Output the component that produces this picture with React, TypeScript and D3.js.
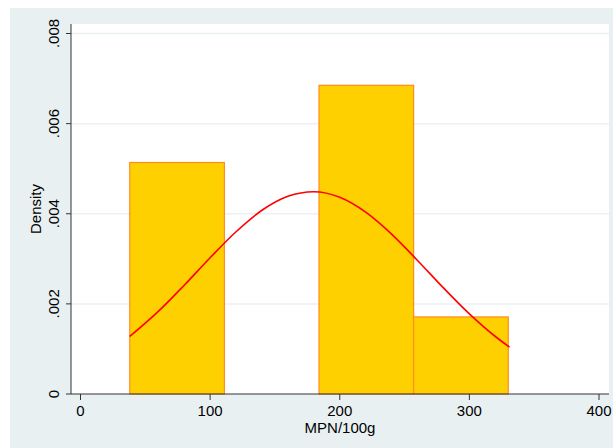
import { useEffect, useRef } from "react";
import * as d3 from "d3";

// histogram bins (MPN/100g) and their densities
const binEdges = [38, 111, 184, 257, 330];
const binDensity = [0.005137, 0, 0.00685, 0.00171];

// normal density overlay
const curveX = [38, 60, 80, 100, 120, 140, 160, 180, 200, 220, 240, 260, 280, 300, 320, 331];
const curveY = [
  0.001276, 0.001832, 0.002414, 0.003024, 0.003601, 0.004077, 0.004387, 0.004488,
  0.004365, 0.004035, 0.003547, 0.002963, 0.002354, 0.001777, 0.001276, 0.00104,
];

const xTicks = [0, 100, 200, 300, 400];
const yTicks = [0, 0.002, 0.004, 0.006, 0.008];
const yTickLabels = ["0", ".002", ".004", ".006", ".008"];

export default function App() {
  const ref = useRef<SVGSVGElement>(null);

  useEffect(() => {
    const width = 613;
    const height = 448;
    const svg = d3.select(ref.current).attr("width", width).attr("height", height);
    svg.selectAll("*").remove();

    const font = "'Liberation Sans', Arial, sans-serif";
    const fontSize = "15px";
    const left = 71;
    const right = 609;
    const top = 24;
    const bottom = 394;

    // outer background
    svg
      .append("rect")
      .attr("x", 10)
      .attr("y", 8)
      .attr("width", width - 10)
      .attr("height", height - 8)
      .attr("fill", "#e8f0f2");

    svg
      .append("rect")
      .attr("x", left)
      .attr("y", top)
      .attr("width", right - left)
      .attr("height", bottom - top)
      .attr("fill", "#ffffff");

    const x = d3.scaleLinear().domain([0, 400]).range([80.5, 599]);
    const y = d3.scaleLinear().domain([0, 0.008]).range([bottom, 33.5]);

    // gridlines
    svg
      .append("g")
      .selectAll("line")
      .data(yTicks.slice(1))
      .enter()
      .append("line")
      .attr("x1", left)
      .attr("x2", right)
      .attr("y1", (d) => y(d))
      .attr("y2", (d) => y(d))
      .attr("stroke", "#eaf1f3")
      .attr("stroke-width", 1.5);

    // bars
    const bins = binDensity.map((d, i) => ({ x0: binEdges[i], x1: binEdges[i + 1], d }));
    svg
      .append("g")
      .selectAll("rect")
      .data(bins.filter((b) => b.d > 0))
      .enter()
      .append("rect")
      .attr("x", (b) => x(b.x0))
      .attr("y", (b) => y(b.d))
      .attr("width", (b) => x(b.x1) - x(b.x0))
      .attr("height", (b) => y(0) - y(b.d))
      .attr("fill", "#ffd000")
      .attr("stroke", "#ff8c1e")
      .attr("stroke-width", 1.2);

    // normal curve
    const line = d3
      .line<number>()
      .x((d, i) => x(curveX[i]))
      .y((d) => y(d))
      .curve(d3.curveMonotoneX);
    svg
      .append("path")
      .attr("d", line(curveY) as string)
      .attr("fill", "none")
      .attr("stroke", "#ff0000")
      .attr("stroke-width", 1.6);

    // axes
    svg
      .append("line")
      .attr("x1", left)
      .attr("x2", left)
      .attr("y1", top)
      .attr("y2", bottom)
      .attr("stroke", "#333")
      .attr("stroke-width", 1);
    svg
      .append("line")
      .attr("x1", left)
      .attr("x2", right)
      .attr("y1", bottom)
      .attr("y2", bottom)
      .attr("stroke", "#333")
      .attr("stroke-width", 1);

    const yAxis = svg.append("g");
    yTicks.forEach((t, i) => {
      yAxis
        .append("line")
        .attr("x1", left - 5)
        .attr("x2", left)
        .attr("y1", y(t))
        .attr("y2", y(t))
        .attr("stroke", "#333");
      yAxis
        .append("text")
        .attr("transform", `translate(58.5,${y(t)}) rotate(-90)`)
        .attr("text-anchor", "middle")
        .style("font-family", font)
        .style("font-size", fontSize)
        .attr("fill", "#000")
        .text(yTickLabels[i]);
    });

    const xAxis = svg.append("g");
    xTicks.forEach((t) => {
      xAxis
        .append("line")
        .attr("x1", x(t))
        .attr("x2", x(t))
        .attr("y1", bottom)
        .attr("y2", bottom + 6)
        .attr("stroke", "#333");
      xAxis
        .append("text")
        .attr("x", x(t))
        .attr("y", 416)
        .attr("text-anchor", "middle")
        .style("font-family", font)
        .style("font-size", fontSize)
        .attr("fill", "#000")
        .text(String(t));
    });

    svg
      .append("text")
      .attr("x", (left + right) / 2)
      .attr("y", 433)
      .attr("text-anchor", "middle")
      .style("font-family", font)
      .style("font-size", fontSize)
      .attr("fill", "#000")
      .text("MPN/100g");

    svg
      .append("text")
      .attr("transform", `translate(41,${(top + bottom) / 2}) rotate(-90)`)
      .attr("text-anchor", "middle")
      .style("font-family", font)
      .style("font-size", fontSize)
      .attr("fill", "#000")
      .text("Density");
  }, []);

  return <svg ref={ref} style={{ position: "absolute", left: 0, top: 0 }}></svg>;
}
